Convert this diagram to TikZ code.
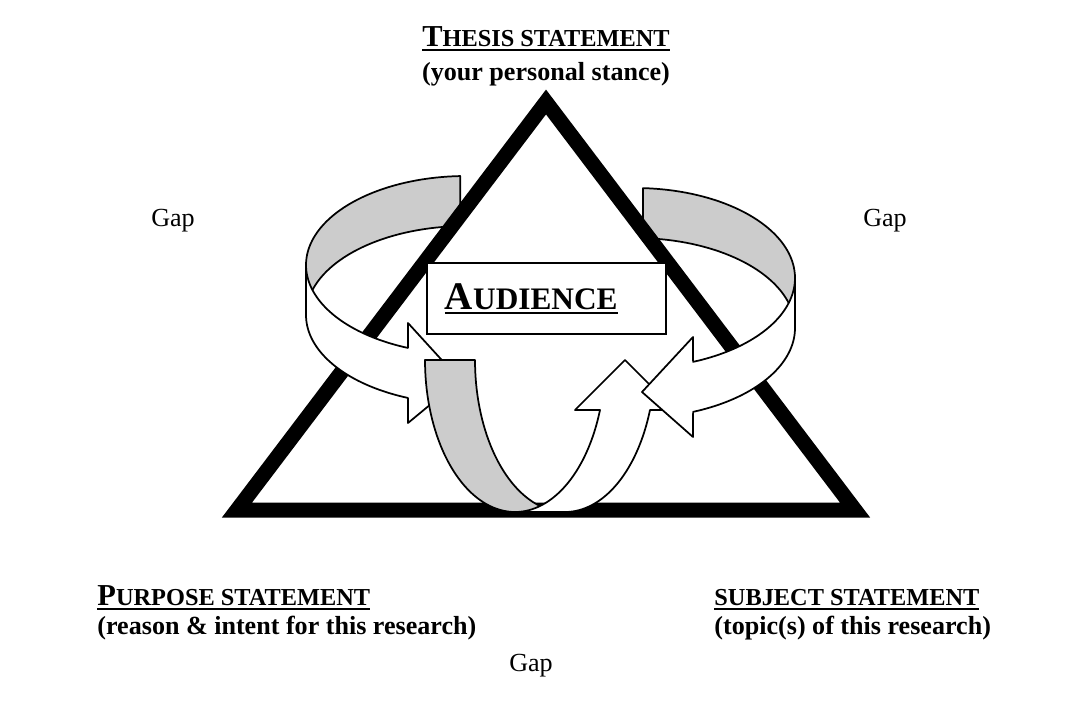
\documentclass[tikz,border=0pt]{standalone}
\usepackage{fontspec}
\setmainfont{Liberation Serif}
\usetikzlibrary{positioning}
\definecolor{ribbongrey}{HTML}{CCCCCC}
\makeatletter
\newcommand{\fakesc}[2]{#1{\fontsize{\fpeval{0.8*\f@size}}{1}\selectfont #2}}
\makeatother
\newcommand{\ulbox}[1]{\sbox0{#1}\rlap{\rule[-2.2pt]{\wd0}{0.9pt}}\usebox0}

\begin{document}
\begin{tikzpicture}[x=0.46pt,y=-0.46pt,
  heading/.style={inner sep=0pt,font=\fontsize{14}{16}\selectfont\bfseries},
  subhead/.style={inner sep=0pt,font=\fontsize{12}{14}\selectfont\bfseries},
  gaplabel/.style={inner sep=0pt,font=\fontsize{12}{14}\selectfont},
  ribbon/.style={draw=black,line width=0.8pt,line join=round},
  backside/.style={ribbon,fill=ribbongrey},
  frontside/.style={ribbon,fill=white}]
  \useasboundingbox (0,0) rectangle (1069,713);

  % far halves of the side loops, behind the triangle
  \path[backside] plot[domain=267.9:180,samples=40] ({466+160*cos(\x)},{265+89*sin(\x)})
    -- plot[domain=180:267.9,samples=40] ({466+160*cos(\x)},{315+89*sin(\x)}) -- cycle;
  \path[backside] plot[domain=272.9:360,samples=40] ({635+160*cos(\x)},{278+90*sin(\x)})
    -- plot[domain=360:272.9,samples=40] ({635+160*cos(\x)},{328+90*sin(\x)}) -- cycle;

  \draw[line width=6.9pt,miter limit=10] (546,102) coordinate (apex) -- (237,510) coordinate (lcorner)
    -- (855,510) coordinate (rcorner) -- cycle;

  \node[draw,line width=0.8pt,fill=white,minimum width=110pt,minimum height=32.7pt,inner sep=0pt,
    font=\fontsize{18}{20}\selectfont\bfseries] (audience) at (546.5,298.5)
    {\ulbox{\fakesc{A}{UDIENCE}}\kern 14pt};

  % near halves
  \path[frontside] plot[domain=180:111.3,samples=40] ({466+160*cos(\x)},{265+89*sin(\x)})
    -- (408,323) -- (460,380) -- (408,423)
    -- plot[domain=111.3:180,samples=40] ({466+160*cos(\x)},{315+89*sin(\x)}) -- cycle;
  \path[backside] plot[domain=180:90,samples=40] ({515+90*cos(\x)},{360+152*sin(\x)})
    -- plot[domain=90:180,samples=40] ({565+90*cos(\x)},{360+152*sin(\x)}) -- cycle;
  \path[frontside] plot[domain=90:19.2,samples=40] ({515+90*cos(\x)},{360+152*sin(\x)})
    -- (575,410) -- (625,360) -- (675,410)
    -- plot[domain=19.2:90,samples=40] ({565+90*cos(\x)},{360+152*sin(\x)}) -- cycle;
  \path[frontside] plot[domain=0:68.7,samples=40] ({635+160*cos(\x)},{278+90*sin(\x)})
    -- (693,337) -- (642,392) -- (693,437)
    -- plot[domain=68.7:0,samples=40] ({635+160*cos(\x)},{328+90*sin(\x)}) -- cycle;

  \node[heading,anchor=base] (thesis) at (546,46) {\ulbox{\fakesc{T}{HESIS STATEMENT}}};
  \node[subhead,anchor=base] (stance) at (546,80) {(your personal stance)};
  \node[heading,anchor=base west] (purpose) at (97,605) {\ulbox{\fakesc{P}{URPOSE STATEMENT}}};
  \node[subhead,anchor=base west] (reason) at (97,634) {(reason \& intent for this research)};
  \node[heading,anchor=base west] (subject) at (714,605) {\ulbox{\fakesc{}{SUBJECT STATEMENT}}};
  \node[subhead,anchor=base west] (topic) at (714,634) {(topic(s) of this research)};

  \node[gaplabel,anchor=base] (gapleft) at (173,226) {Gap};
  \node[gaplabel,anchor=base] (gapright) at (885,226) {Gap};
  \node[gaplabel,anchor=base] (gapbottom) at (531,671) {Gap};
\end{tikzpicture}
\end{document}
